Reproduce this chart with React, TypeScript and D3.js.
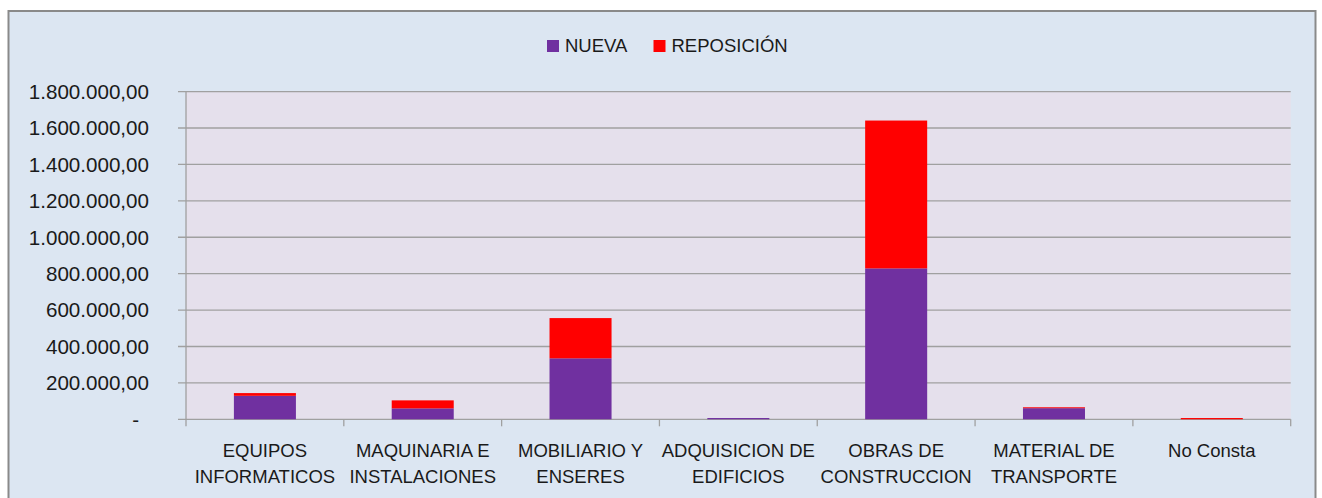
import React from "react";
import * as d3 from "d3";

const categories = [
  "EQUIPOS INFORMATICOS",
  "MAQUINARIA E INSTALACIONES",
  "MOBILIARIO Y ENSERES",
  "ADQUISICION DE EDIFICIOS",
  "OBRAS DE CONSTRUCCION",
  "MATERIAL DE TRANSPORTE",
  "No Consta",
];
const categoryLines = [
  ["EQUIPOS", "INFORMATICOS"],
  ["MAQUINARIA E", "INSTALACIONES"],
  ["MOBILIARIO Y", "ENSERES"],
  ["ADQUISICION DE", "EDIFICIOS"],
  ["OBRAS DE", "CONSTRUCCION"],
  ["MATERIAL DE", "TRANSPORTE"],
  ["No Consta"],
];
const nueva = [129000, 60000, 335000, 7000, 829000, 61000, 0];
const reposicion = [15000, 44000, 221000, 0, 812000, 5000, 7000];
const seriesNames = ["NUEVA", "REPOSICIÓN"];
const seriesColors = ["#7030A0", "#FF0000"];
const yTicks = [0, 200000, 400000, 600000, 800000, 1000000, 1200000, 1400000, 1600000, 1800000];

const fmt = (v: number) => {
  if (v === 0) return "-";
  const s = Math.round(v).toString().replace(/\B(?=(\d{3})+(?!\d))/g, ".");
  return s + ",00";
};

export default function App() {
  const W = 1322, H = 498;
  const left = 186, right = 1290.7, top = 91.6, bottom = 419.3;
  const font = "'Liberation Sans', Arial, sans-serif";

  const x = d3.scaleBand<string>().domain(categories).range([left, right]).paddingInner(0.607).paddingOuter(0.3035);
  const y = d3.scaleLinear().domain([0, 1800000]).range([bottom, top]);
  const step = x.step();

  const rows = categories.map((c, i) => ({ cat: c, NUEVA: nueva[i], "REPOSICIÓN": reposicion[i] }));
  const stacked = d3.stack<any>().keys(seriesNames)(rows);

  const legendItems = [
    { name: seriesNames[0], color: seriesColors[0], x: 547 },
    { name: seriesNames[1], color: seriesColors[1], x: 653.5 },
  ];

  return (
    <svg width={W} height={H} style={{ position: "absolute", left: 0, top: 0 }} fontFamily={font}>
      <rect x={0} y={0} width={W} height={H} fill="#ffffff" />
      <rect x={8.5} y={11} width={1307} height={500} fill="#DCE6F2" stroke="#8A8A8A" strokeWidth={2} />
      <rect x={left} y={top} width={right - left} height={bottom - top} fill="#E5E0EC" />
      {yTicks.map((t) => (
        <line key={"g" + t} x1={left - 8} x2={right} y1={y(t)} y2={y(t)} stroke="#A0A0A0" strokeWidth={1.3} />
      ))}
      <line x1={left} x2={left} y1={top} y2={bottom} stroke="#A0A0A0" strokeWidth={1.3} />
      {d3.range(categories.length + 1).map((i) => (
        <line key={"xt" + i} x1={left + i * step} x2={left + i * step} y1={bottom} y2={bottom + 7} stroke="#A0A0A0" strokeWidth={1.3} />
      ))}
      {stacked.map((s, si) =>
        s.map((d, i) => {
          const h = y(d[0]) - y(d[1]);
          if (h <= 0) return null;
          return (
            <rect
              key={si + "-" + i}
              x={x(categories[i])}
              y={y(d[1])}
              width={x.bandwidth()}
              height={h}
              fill={seriesColors[si]}
            />
          );
        })
      )}
      {yTicks.map((t) => (
        <text
          key={"yl" + t}
          x={t === 0 ? 139 : 149}
          y={y(t) + 7.3}
          textAnchor="end"
          fontSize={20.6}
          fill="#1A1A1A"
        >
          {fmt(t)}
        </text>
      ))}
      {categories.map((c, i) => (
        <text key={"cl" + i} textAnchor="middle" fontSize={18.5} fill="#1A1A1A">
          {categoryLines[i].map((ln, j) => (
            <tspan key={j} x={(x(c) as number) + x.bandwidth() / 2} y={457 + j * 25.5}>
              {ln}
            </tspan>
          ))}
        </text>
      ))}
      {legendItems.map((it) => (
        <g key={it.name}>
          <rect x={it.x} y={40} width={12} height={12} fill={it.color} />
          <text x={it.x + 18} y={52} fontSize={18.5} fill="#1A1A1A">
            {it.name}
          </text>
        </g>
      ))}
    </svg>
  );
}
